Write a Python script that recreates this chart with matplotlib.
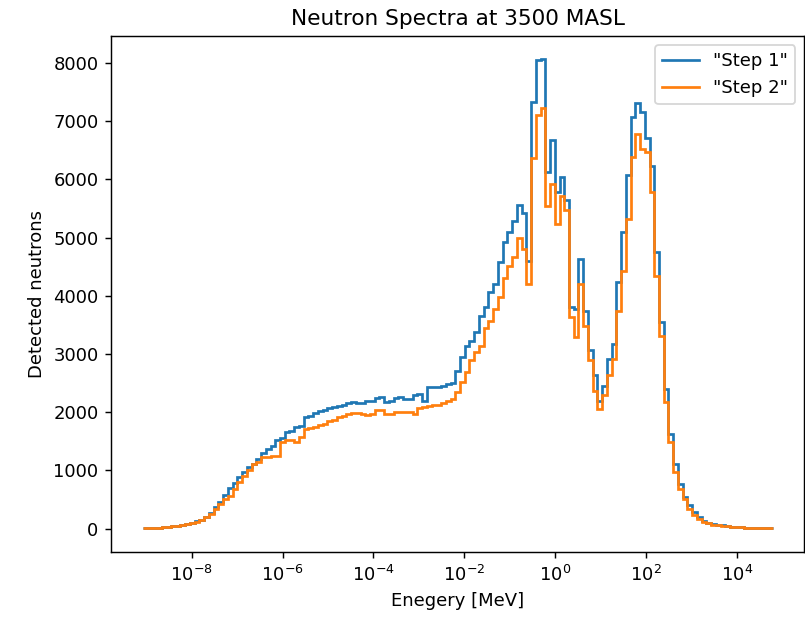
import numpy as np
import matplotlib.pyplot as plt

# log-spaced energy bins [MeV]
log_e_min = -9.08
log_e_max = 4.79
n_bins = 133

step1 = [10, 12, 15, 18, 22, 30, 38, 48, 60, 75,
         95, 125, 155, 200, 260, 375, 450, 570, 700, 780,
         890, 980, 1060, 1110, 1200, 1290, 1370, 1420, 1515, 1560,
         1660, 1680, 1750, 1760, 1920, 1930, 1990, 2020, 2040, 2080,
         2090, 2110, 2115, 2150, 2170, 2160, 2150, 2200, 2200, 2250,
         2260, 2180, 2190, 2250, 2260, 2230, 2230, 2290, 2315, 2200,
         2430, 2430, 2440, 2450, 2490, 2500, 2715, 2950, 3145, 3230,
         3375, 3660, 3800, 4060, 4200, 4575, 4920, 5100, 5290, 5560,
         5420, 4600, 7335, 8050, 8060, 6120, 6680, 5780, 6040, 5650,
         3800, 3780, 4630, 3745, 3060, 2630, 2200, 2450, 2915, 3175,
         4230, 5090, 6070, 7075, 7315, 7160, 6710, 6225, 4745, 3545,
         2400, 1630, 1115, 770, 550, 400, 290, 200, 130, 100,
         80, 65, 55, 42, 35, 28, 24, 18, 14, 10,
         8, 6, 5]

step2 = [10, 12, 14, 18, 22, 28, 36, 46, 58, 72,
         92, 118, 150, 195, 250, 330, 420, 500, 560, 680,
         800, 910, 1000, 1110, 1150, 1230, 1235, 1240, 1250, 1490,
         1515, 1530, 1490, 1580, 1715, 1720, 1750, 1780, 1800, 1840,
         1870, 1915, 1930, 1970, 1980, 1990, 1960, 1945, 1960, 2030,
         2030, 1970, 1975, 2010, 2010, 2005, 2000, 1970, 2080, 2090,
         2100, 2115, 2130, 2150, 2190, 2230, 2345, 2515, 2690, 2890,
         3030, 3145, 3440, 3560, 3775, 3970, 4300, 4505, 4660, 4985,
         4800, 4200, 6370, 7100, 7220, 5545, 5915, 5230, 5715, 5480,
         3640, 3290, 4200, 3485, 2890, 2355, 2050, 2300, 2630, 2915,
         3745, 4430, 5315, 6380, 6775, 6520, 6465, 5780, 4340, 3315,
         2180, 1490, 975, 685, 515, 345, 230, 170, 115, 90,
         70, 55, 45, 38, 30, 24, 20, 15, 12, 9,
         7, 5, 4]

edges = np.logspace(log_e_min, log_e_max, n_bins + 1)

fig, ax = plt.subplots(figsize=(805 / 130, 620 / 130), dpi=130)
fig.subplots_adjust(left=0.138, right=0.999, bottom=0.11, top=0.942)

ax.stairs(step1, edges, baseline=None, label='"Step 1"', linewidth=1.5)
ax.stairs(step2, edges, baseline=None, label='"Step 2"', linewidth=1.5)

ax.set_xscale('log')
ax.xaxis.set_minor_locator(plt.NullLocator())
ax.set_title('Neutron Spectra at 3500 MASL')
ax.set_xlabel('Enegery [MeV]')
ax.set_ylabel('Detected neutrons')
ax.legend(loc='upper right')

plt.savefig('out.png', dpi=130)
plt.close(fig)
